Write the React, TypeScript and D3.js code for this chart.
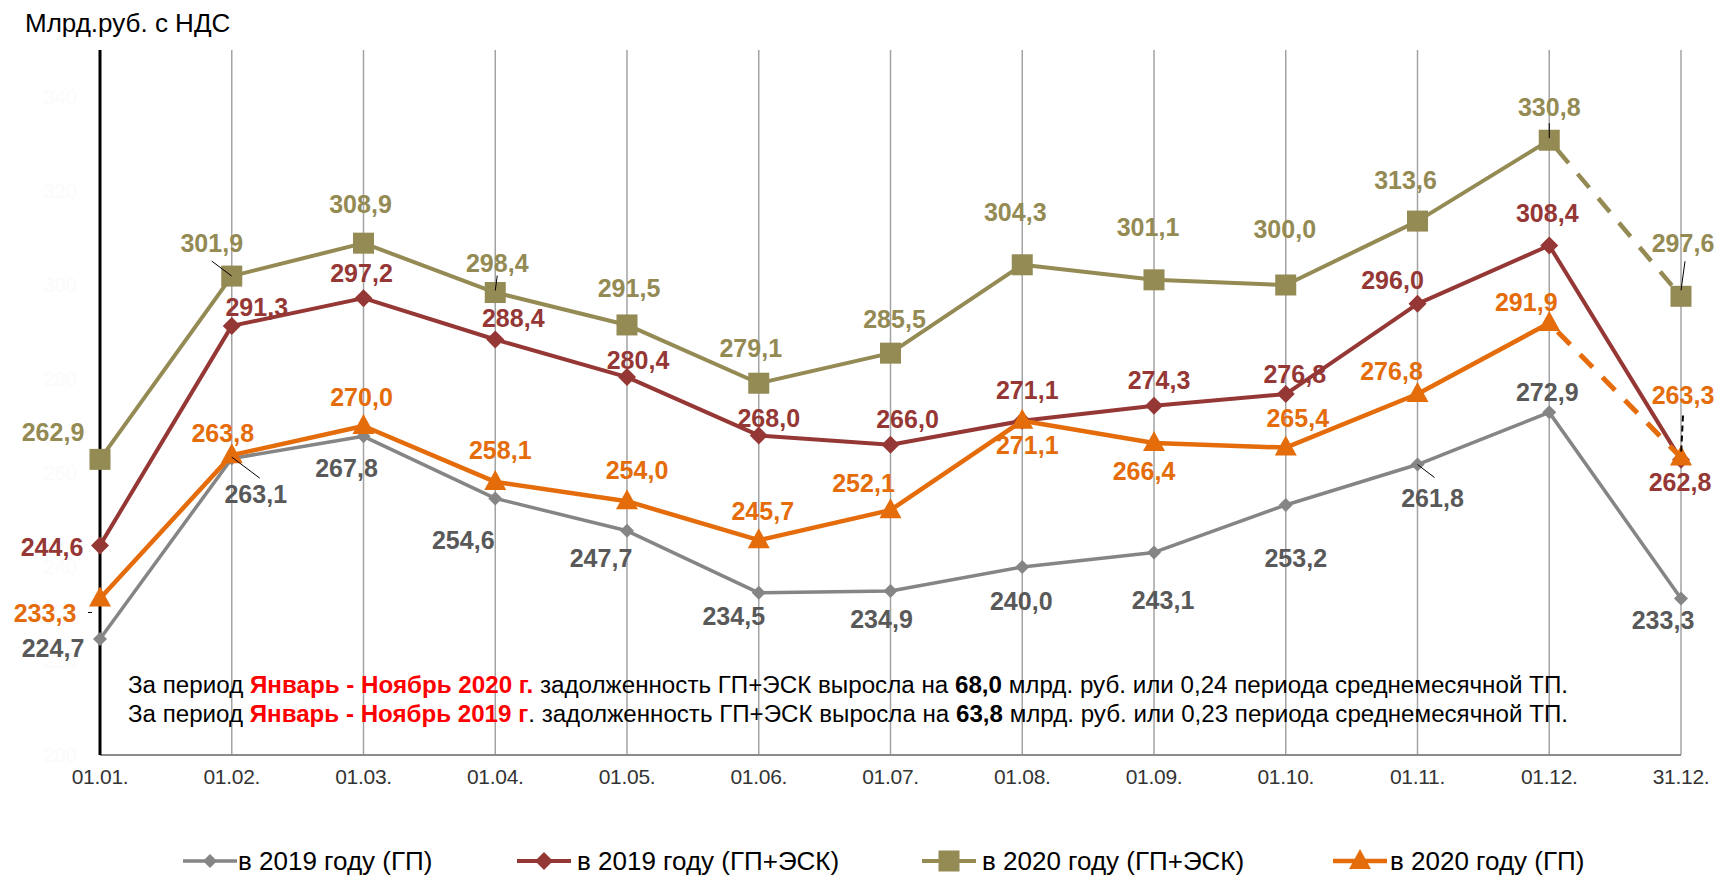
import * as d3 from 'd3';

// debt by date, bn rub incl. VAT
const dates = ['01.01.', '01.02.', '01.03.', '01.04.', '01.05.', '01.06.', '01.07.', '01.08.', '01.09.', '01.10.', '01.11.', '01.12.', '31.12.'];
const gp2019 = [224.7, 263.1, 267.8, 254.6, 247.7, 234.5, 234.9, 240.0, 243.1, 253.2, 261.8, 272.9, 233.3];
const gpEsk2019 = [244.6, 291.3, 297.2, 288.4, 280.4, 268.0, 266.0, 271.1, 274.3, 276.8, 296.0, 308.4, 262.8];
const gpEsk2020 = [262.9, 301.9, 308.9, 298.4, 291.5, 279.1, 285.5, 304.3, 301.1, 300.0, 313.6, 330.8, 297.6];
const gp2020 = [233.3, 263.8, 270.0, 258.1, 254.0, 245.7, 252.1, 271.1, 266.4, 265.4, 276.8, 291.9, 263.3];
const yTicks = [200, 220, 240, 260, 280, 300, 320, 340];

// label placement relative to the marker (px)
const offGp2019 = [[-47, 9], [24, 36], [-17, 32], [-32, 42], [-26, 27], [-25, 23], [-9, 28], [-1, 34], [9, 48], [10, 53], [15, 33], [-2, -20], [-18, 22]];
const offGpEsk2019 = [[-48, 2], [25, -19], [-2, -25], [18, -22], [11, -17], [10, -17], [17, -26], [5, -31], [5, -26], [9, -20], [-25, -24], [-2, -33], [-1, 22]];
const offGpEsk2020 = [[-47, -27], [-20, -33], [-3, -39], [2, -30], [2, -37], [-8, -35], [4, -34], [-7, -53], [-6, -53], [-1, -56], [-12, -41], [0, -33], [2, -53]];
const offGp2020 = [[-55, 15], [-9, -22], [-2, -29], [5, -32], [10, -31], [4, -29], [-27, -27], [5, 24], [-10, 28], [12, -30], [-26, -23], [-23, -21], [2, -62]];

type Series = {
  name: string; values: number[]; offsets: number[][];
  color: string; labelColor: string; width: number;
  marker: 'diamondS' | 'diamond' | 'square' | 'triangle'; dashedLast: boolean;
};

const series: Series[] = [
  { name: 'в 2019 году (ГП)', values: gp2019, offsets: offGp2019, color: '#858585', labelColor: '#595959', width: 3.5, marker: 'diamondS', dashedLast: false },
  { name: 'в 2019 году (ГП+ЭСК)', values: gpEsk2019, offsets: offGpEsk2019, color: '#953735', labelColor: '#953735', width: 4, marker: 'diamond', dashedLast: false },
  { name: 'в 2020 году (ГП+ЭСК)', values: gpEsk2020, offsets: offGpEsk2020, color: '#948A54', labelColor: '#948A54', width: 4, marker: 'square', dashedLast: true },
  { name: 'в 2020 году (ГП)', values: gp2020, offsets: offGp2020, color: '#E46C0A', labelColor: '#E46C0A', width: 4.5, marker: 'triangle', dashedLast: true },
];

const W = 1721;
const H = 875;
const left = 100;
const right = 1681;
const top = 50;
const bottom = 755;
const font = '"Liberation Sans", Arial, sans-serif';

const Marker = ({ kind, x, y, color }: { kind: Series['marker']; x: number; y: number; color: string }) => {
  if (kind === 'square') return <rect x={x - 10.5} y={y - 10.5} width={21} height={21} fill={color} />;
  if (kind === 'triangle') return <path d={`M${x},${y - 12}L${x + 11},${y + 8}L${x - 11},${y + 8}Z`} fill={color} />;
  const r = kind === 'diamond' ? 9 : 7;
  return <path d={`M${x},${y - r}L${x + r},${y}L${x},${y + r}L${x - r},${y}Z`} fill={color} />;
};

export default function App() {
  const x = d3.scalePoint<string>().domain(dates).range([left, right]);
  const y = d3.scaleLinear().domain([200, 350]).range([bottom, top]);
  const line = d3.line<number>().x((_, i) => x(dates[i]) ?? 0).y(d => y(d));

  const px = (i: number) => x(dates[i]) ?? 0;

  // thin leader lines from labels to markers: [series, index, x1, y1, x2, y2] relative to marker
  const leaders: [number, number, number, number, number, number, boolean][] = [
    [2, 1, -20, -15, 0, 0, false],
    [2, 3, 2, -17, 0, -2, false],
    [2, 11, 0, -17, 0, -2, false],
    [2, 12, 4, -35, 0, -6, false],
    [3, 1, 0, 2, 28, 23, false],
    [3, 0, -12, 14, -8, 14, false],
    [3, 12, 2, -42, 0, -2, true],
    [0, 10, 0, 0, 17, 13, false],
  ];

  const legendItems = [
    { lx: 183, tx: 238 },
    { lx: 517, tx: 577 },
    { lx: 922, tx: 982 },
    { lx: 1333, tx: 1390 },
  ];

  return (
    <svg width={W} height={H} style={{ position: 'absolute', left: 0, top: 0, background: '#fff' }} fontFamily={font}>
      <rect width={W} height={H} fill="#fff" />
      <text x={25} y={32} fontSize={26} fill="#000">Млрд.руб. с НДС</text>

      {/* value axis labels are white in the source */}
      {yTicks.map(t => (
        <text key={t} x={77} y={y(t)} dy="0.35em" textAnchor="end" fontSize={20} fill="#fbfbfb">{t}</text>
      ))}

      {/* category gridlines */}
      {dates.map(d => (
        <line key={d} x1={x(d)} x2={x(d)} y1={top} y2={bottom} stroke="#a3a3a3" strokeWidth={1.5} />
      ))}
      <line x1={left} x2={right} y1={bottom} y2={bottom} stroke="#8c8c8c" strokeWidth={2} />
      <line x1={left} x2={left} y1={top} y2={bottom} stroke="#000" strokeWidth={3} />

      {dates.map(d => (
        <text key={d} x={x(d)} y={784} textAnchor="middle" fontSize={21} fill="#333" letterSpacing={-0.3}>{d}</text>
      ))}

      {/* annotation */}
      <text x={128} y={693} fontSize={23} fill="#000" textLength={1440} lengthAdjust="spacingAndGlyphs">
        За период <tspan fill="#FF0000" fontWeight="bold">Январь - Ноябрь 2020 г.</tspan> задолженность ГП+ЭСК выросла на <tspan fontWeight="bold">68,0</tspan> млрд. руб. или 0,24 периода среднемесячной ТП.
      </text>
      <text x={128} y={722} fontSize={23} fill="#000" textLength={1440} lengthAdjust="spacingAndGlyphs">
        За период <tspan fill="#FF0000" fontWeight="bold">Январь - Ноябрь 2019 г</tspan>. задолженность ГП+ЭСК выросла на <tspan fontWeight="bold">63,8</tspan> млрд. руб. или 0,23 периода среднемесячной ТП.
      </text>

      {/* lines */}
      {series.map(s => {
        const n = s.values.length;
        const solid = s.dashedLast ? s.values.slice(0, n - 1) : s.values;
        return (
          <g key={s.name}>
            <path d={line(solid) ?? ''} fill="none" stroke={s.color} strokeWidth={s.width} strokeLinejoin="round" />
            {s.dashedLast && (
              <line x1={px(n - 2)} y1={y(s.values[n - 2])} x2={px(n - 1)} y2={y(s.values[n - 1])}
                stroke={s.color} strokeWidth={s.width + 0.5} strokeDasharray="18 14" strokeDashoffset={-12} />
            )}
            {s.values.map((v, i) => <Marker key={i} kind={s.marker} x={px(i)} y={y(v)} color={s.color} />)}
          </g>
        );
      })}

      {leaders.map(([si, i, x1, y1, x2, y2, dashed], k) => {
        const cx = px(i);
        const cy = y(series[si].values[i]);
        return (
          <line key={k} x1={cx + x1} y1={cy + y1} x2={cx + x2} y2={cy + y2}
            stroke="#000" strokeWidth={dashed ? 2 : 1} strokeDasharray={dashed ? '6 4' : undefined} />
        );
      })}

      {/* data labels */}
      {series.map(s => (
        <g key={s.name + 'l'}>
          {s.values.map((v, i) => (
            <text key={i} x={px(i) + s.offsets[i][0]} y={y(v) + s.offsets[i][1]} dy="0.36em" textAnchor="middle"
              fontSize={25} fontWeight="bold" fill={s.labelColor}>
              {d3.format('.1f')(v).replace('.', ',')}
            </text>
          ))}
        </g>
      ))}

      {/* legend */}
      {series.map((s, k) => {
        const it = legendItems[k];
        return (
          <g key={s.name + 'g'}>
            <line x1={it.lx} x2={it.lx + 54} y1={861} y2={861} stroke={s.color} strokeWidth={s.width} />
            <Marker kind={s.marker} x={it.lx + 27} y={861} color={s.color} />
            <text x={it.tx} y={870} fontSize={26} fill="#000">{s.name}</text>
          </g>
        );
      })}
    </svg>
  );
}
